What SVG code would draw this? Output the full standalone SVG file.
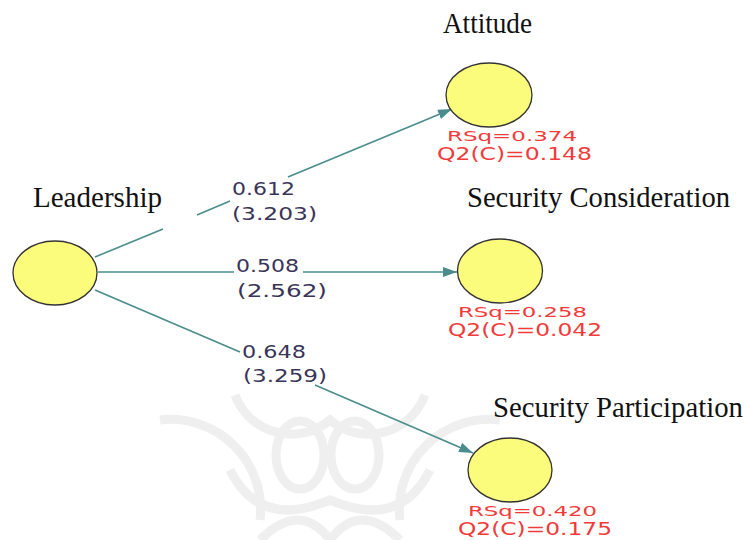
<svg xmlns="http://www.w3.org/2000/svg" width="745" height="540" viewBox="0 0 745 540">
<defs>
<style>
.node{fill:#fbfb7c;stroke:#333;stroke-width:1.3}
.title{font-family:"Liberation Serif","Times New Roman",serif;font-size:29px;fill:#111}
.coef{font-family:"DejaVu Sans",Verdana,sans-serif;font-size:17px;fill:#3a3558}
.red{font-family:"DejaVu Sans",Verdana,sans-serif;font-size:17px;fill:#f23a3a}
.rsq{font-family:"DejaVu Sans",Verdana,sans-serif;font-size:14px;fill:#f23a3a}
.edge{stroke:#4b8c8c;stroke-width:1.6;fill:none}
.wm{fill:none;stroke:#efefef;stroke-width:9}
</style>
<marker id="ah" viewBox="0 0 14 10" refX="14" refY="5" markerWidth="14" markerHeight="10" markerUnits="userSpaceOnUse" orient="auto">
<path d="M0,0 L14,5 L0,10 Z" fill="#4b8c8c"/>
</marker>
</defs>
<rect width="745" height="540" fill="#fff"/>
<g id="watermark">
<ellipse class="wm" cx="300" cy="455" rx="24" ry="34"/>
<ellipse class="wm" cx="355" cy="455" rx="24" ry="34"/>
<path class="wm" d="M235,395 A60,60 0 0 0 330,420 A60,60 0 0 0 425,395"/>
<path class="wm" d="M160,420 A90,90 0 0 1 260,520"/>
<path class="wm" d="M500,420 A90,90 0 0 0 400,520"/>
<path class="wm" d="M230,470 Q260,530 330,500 Q400,530 430,470"/>
<path class="wm" d="M260,540 Q300,500 330,540 Q360,500 400,540"/>
</g>
<g id="connectors">
<path class="edge" d="M95,257 L163,229"/>
<path class="edge" d="M197,215 L230,201"/>
<path class="edge" d="M288,177 L452,109" marker-end="url(#ah)"/>
<path class="edge" d="M98,272 L234,272"/>
<path class="edge" d="M303,272 L457,272" marker-end="url(#ah)"/>
<path class="edge" d="M95,290 L240,352"/>
<path class="edge" d="M315,385 L473,453" marker-end="url(#ah)"/>
<text class="coef" x="232" y="195" textLength="63" lengthAdjust="spacingAndGlyphs">0.612</text>
<text class="coef" x="232" y="220" textLength="85" lengthAdjust="spacingAndGlyphs">(3.203)</text>
<text class="coef" x="236" y="272" textLength="63" lengthAdjust="spacingAndGlyphs">0.508</text>
<text class="coef" x="237" y="297" textLength="90" lengthAdjust="spacingAndGlyphs">(2.562)</text>
<text class="coef" x="242" y="358" textLength="64" lengthAdjust="spacingAndGlyphs">0.648</text>
<text class="coef" x="243" y="382" textLength="84" lengthAdjust="spacingAndGlyphs">(3.259)</text>
</g>
<g id="leadership">
<ellipse class="node" cx="55" cy="273" rx="42" ry="32"/>
<text class="title" x="33" y="207" textLength="129" lengthAdjust="spacingAndGlyphs">Leadership</text>
</g>
<g id="attitude">
<ellipse class="node" cx="489" cy="95" rx="43" ry="32"/>
<text class="title" x="443" y="33" textLength="89" lengthAdjust="spacingAndGlyphs">Attitude</text>
<text class="rsq" x="447" y="141" textLength="130" lengthAdjust="spacingAndGlyphs">RSq=0.374</text>
<text class="red" x="437" y="160" textLength="155" lengthAdjust="spacingAndGlyphs">Q2(C)=0.148</text>
</g>
<g id="security-consideration">
<ellipse class="node" cx="500" cy="271" rx="42.5" ry="32"/>
<text class="title" x="467" y="207" textLength="263" lengthAdjust="spacingAndGlyphs">Security Consideration</text>
<text class="rsq" x="458" y="317" textLength="129" lengthAdjust="spacingAndGlyphs">RSq=0.258</text>
<text class="red" x="448" y="336" textLength="154" lengthAdjust="spacingAndGlyphs">Q2(C)=0.042</text>
</g>
<g id="security-participation">
<ellipse class="node" cx="510" cy="470" rx="42" ry="32"/>
<text class="title" x="493" y="417" textLength="250" lengthAdjust="spacingAndGlyphs">Security Participation</text>
<text class="rsq" x="468" y="516" textLength="129" lengthAdjust="spacingAndGlyphs">RSq=0.420</text>
<text class="red" x="458" y="535" textLength="154" lengthAdjust="spacingAndGlyphs">Q2(C)=0.175</text>
</g>
</svg>
